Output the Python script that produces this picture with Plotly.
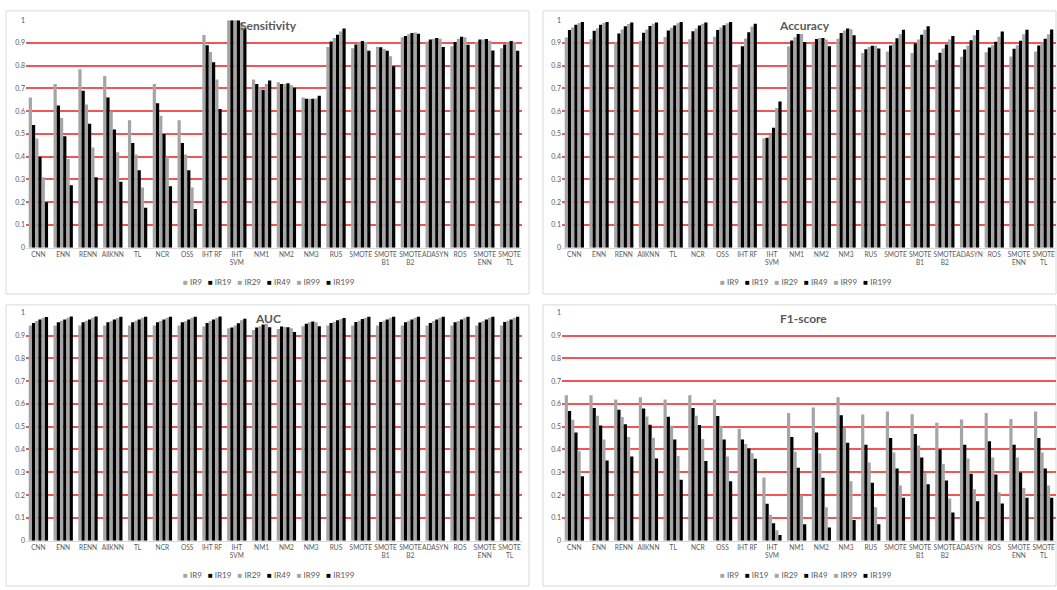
import plotly.graph_objects as go

W, H = 1057, 590

categories = ["CNN", "ENN", "RENN", "AllKNN", "TL", "NCR", "OSS", "IHT RF", "IHT<br>SVM",
              "NM1", "NM2", "NM3", "RUS", "SMOTE", "SMOTE<br>B1", "SMOTE<br>B2", "ADASYN",
              "ROS", "SMOTE<br>ENN", "SMOTE<br>TL"]
series_names = ["IR9", "IR19", "IR29", "IR49", "IR99", "IR199"]
series_colors = ["#a5a5a5", "#000000", "#a5a5a5", "#000000", "#a5a5a5", "#000000"]
y_ticks = [0, 0.1, 0.2, 0.3, 0.4, 0.5, 0.6, 0.7, 0.8, 0.9, 1]
y_ticklabels = ["0", "0.1", "0.2", "0.3", "0.4", "0.5", "0.6", "0.7", "0.8", "0.9", "1"]

# Sensitivity
sens_ir9 = [0.66, 0.72, 0.785, 0.755, 0.56, 0.72, 0.56, 0.935, 1.0, 0.74, 0.727, 0.66, 0.883, 0.877, 0.884, 0.925, 0.907, 0.886, 0.906, 0.877]
sens_ir19 = [0.54, 0.625, 0.69, 0.66, 0.46, 0.635, 0.46, 0.89, 1.0, 0.72, 0.72, 0.655, 0.907, 0.893, 0.881, 0.931, 0.916, 0.905, 0.916, 0.893]
sens_ir29 = [0.48, 0.57, 0.63, 0.60, 0.41, 0.58, 0.41, 0.86, 1.0, 0.705, 0.72, 0.655, 0.922, 0.902, 0.874, 0.939, 0.919, 0.919, 0.915, 0.903]
sens_ir49 = [0.40, 0.49, 0.545, 0.52, 0.34, 0.50, 0.34, 0.815, 1.0, 0.695, 0.723, 0.655, 0.936, 0.909, 0.866, 0.944, 0.922, 0.928, 0.918, 0.909]
sens_ir99 = [0.31, 0.39, 0.44, 0.42, 0.265, 0.40, 0.265, 0.74, 0.99, 0.72, 0.715, 0.656, 0.951, 0.905, 0.842, 0.946, 0.919, 0.925, 0.91, 0.905]
sens_ir199 = [0.20, 0.275, 0.31, 0.29, 0.175, 0.27, 0.17, 0.61, 0.965, 0.735, 0.703, 0.668, 0.964, 0.866, 0.798, 0.941, 0.883, 0.892, 0.867, 0.866]

# Accuracy
acc_ir9 = [0.924, 0.917, 0.902, 0.91, 0.927, 0.917, 0.928, 0.807, 0.481, 0.885, 0.898, 0.919, 0.856, 0.863, 0.856, 0.825, 0.84, 0.859, 0.841, 0.863]
acc_ir19 = [0.957, 0.954, 0.942, 0.945, 0.955, 0.952, 0.957, 0.886, 0.483, 0.911, 0.918, 0.944, 0.873, 0.889, 0.898, 0.857, 0.872, 0.88, 0.875, 0.889]
acc_ir29 = [0.968, 0.965, 0.96, 0.96, 0.967, 0.964, 0.968, 0.92, 0.497, 0.925, 0.922, 0.955, 0.882, 0.903, 0.916, 0.876, 0.889, 0.89, 0.89, 0.903]
acc_ir49 = [0.98, 0.98, 0.974, 0.975, 0.977, 0.977, 0.978, 0.947, 0.527, 0.94, 0.922, 0.964, 0.888, 0.921, 0.936, 0.893, 0.912, 0.906, 0.91, 0.919]
acc_ir99 = [0.988, 0.988, 0.984, 0.985, 0.987, 0.985, 0.987, 0.973, 0.614, 0.94, 0.916, 0.961, 0.888, 0.939, 0.958, 0.915, 0.934, 0.928, 0.939, 0.939]
acc_ir199 = [0.993, 0.993, 0.99, 0.99, 0.993, 0.99, 0.993, 0.985, 0.643, 0.905, 0.886, 0.934, 0.876, 0.958, 0.974, 0.931, 0.957, 0.951, 0.958, 0.96]

# AUC
auc_ir9 = [0.944, 0.944, 0.944, 0.944, 0.944, 0.944, 0.944, 0.94, 0.932, 0.924, 0.929, 0.941, 0.944, 0.944, 0.944, 0.944, 0.944, 0.944, 0.944, 0.944]
auc_ir19 = [0.955, 0.958, 0.958, 0.958, 0.958, 0.958, 0.958, 0.955, 0.935, 0.935, 0.94, 0.952, 0.955, 0.96, 0.96, 0.958, 0.955, 0.958, 0.957, 0.96]
auc_ir29 = [0.964, 0.965, 0.965, 0.963, 0.965, 0.964, 0.963, 0.964, 0.944, 0.941, 0.938, 0.958, 0.961, 0.965, 0.965, 0.965, 0.964, 0.964, 0.964, 0.965]
auc_ir49 = [0.971, 0.971, 0.971, 0.971, 0.971, 0.971, 0.971, 0.971, 0.954, 0.948, 0.937, 0.962, 0.967, 0.973, 0.971, 0.971, 0.971, 0.971, 0.971, 0.971]
auc_ir99 = [0.978, 0.978, 0.978, 0.977, 0.978, 0.978, 0.978, 0.978, 0.967, 0.952, 0.932, 0.958, 0.973, 0.978, 0.978, 0.978, 0.978, 0.978, 0.978, 0.978]
auc_ir199 = [0.981, 0.984, 0.984, 0.983, 0.982, 0.983, 0.982, 0.984, 0.974, 0.937, 0.916, 0.941, 0.977, 0.983, 0.983, 0.983, 0.983, 0.983, 0.983, 0.983]

# F1-score
f1_ir9 = [0.638, 0.638, 0.619, 0.629, 0.619, 0.638, 0.619, 0.491, 0.277, 0.56, 0.584, 0.629, 0.554, 0.567, 0.555, 0.517, 0.532, 0.56, 0.534, 0.567]
f1_ir19 = [0.569, 0.582, 0.574, 0.58, 0.544, 0.582, 0.547, 0.444, 0.162, 0.455, 0.475, 0.55, 0.421, 0.45, 0.468, 0.40, 0.421, 0.436, 0.421, 0.45]
f1_ir29 = [0.531, 0.548, 0.543, 0.545, 0.504, 0.548, 0.504, 0.424, 0.114, 0.39, 0.382, 0.495, 0.343, 0.387, 0.418, 0.336, 0.361, 0.365, 0.365, 0.387]
f1_ir49 = [0.475, 0.505, 0.511, 0.509, 0.444, 0.508, 0.444, 0.404, 0.076, 0.32, 0.276, 0.43, 0.254, 0.317, 0.365, 0.264, 0.294, 0.29, 0.299, 0.317]
f1_ir99 = [0.392, 0.444, 0.455, 0.452, 0.371, 0.446, 0.369, 0.384, 0.046, 0.199, 0.147, 0.261, 0.147, 0.242, 0.297, 0.185, 0.225, 0.212, 0.231, 0.242]
f1_ir199 = [0.283, 0.352, 0.369, 0.361, 0.267, 0.349, 0.261, 0.359, 0.025, 0.072, 0.058, 0.091, 0.072, 0.188, 0.248, 0.123, 0.173, 0.163, 0.188, 0.188]

panels = [
    ("Sensitivity", [sens_ir9, sens_ir19, sens_ir29, sens_ir49, sens_ir99, sens_ir199]),
    ("Accuracy", [acc_ir9, acc_ir19, acc_ir29, acc_ir49, acc_ir99, acc_ir199]),
    ("AUC", [auc_ir9, auc_ir19, auc_ir29, auc_ir49, auc_ir99, auc_ir199]),
    ("F1-score", [f1_ir9, f1_ir19, f1_ir29, f1_ir49, f1_ir99, f1_ir199]),
]


def px(x):
    return x / W


def py(y):
    return 1 - y / H


geo = [
    dict(frame=(6, 529, 6, 293), plotx=(26, 522), ploty=(15.5, 246), title=(268, 21), legend=(269, 281)),
    dict(frame=(543, 1056, 6, 293), plotx=(562, 1056), ploty=(15.5, 246), title=(804, 21), legend=(806, 281)),
    dict(frame=(6, 529, 304, 589), plotx=(26, 522), ploty=(312, 543), title=(268, 318), legend=(269, 578)),
    dict(frame=(543, 1056, 304, 589), plotx=(562, 1056), ploty=(312, 543), title=(803, 318), legend=(806, 578)),
]

FONT = "Lato"
TXT = "#595959"
GRID = "rgb(242,85,85)"

fig = go.Figure()
layout = dict(
    width=W, height=H, margin=dict(l=0, r=0, t=0, b=0),
    paper_bgcolor="white", plot_bgcolor="white",
    barmode="group", bargap=0.22, bargroupgap=0,
    showlegend=False, font=dict(family=FONT, color=TXT),
    shapes=[], annotations=[],
)

for i, ((title, vals), g) in enumerate(zip(panels, geo)):
    sfx = "" if i == 0 else str(i + 1)
    xa, ya = "x" + sfx, "y" + sfx
    for name, color, v in zip(series_names, series_colors, vals):
        fig.add_trace(go.Bar(x=categories, y=v, name=name, marker=dict(color=color, line=dict(width=0)),
                             xaxis=xa, yaxis=ya, offsetgroup=name))
    layout["xaxis" + sfx] = dict(
        domain=[px(g["plotx"][0]), px(g["plotx"][1])], anchor=ya,
        showgrid=False, showline=True, linecolor="#d9d9d9", linewidth=1,
        ticks="", tickfont=dict(size=6.6, color=TXT, family=FONT), tickangle=0,
        fixedrange=True,
    )
    layout["yaxis" + sfx] = dict(
        domain=[py(g["ploty"][1]), py(g["ploty"][0])], anchor=xa,
        range=[0, 1], tickvals=y_ticks, ticktext=y_ticklabels,
        showgrid=True, gridcolor=GRID, gridwidth=1.5, zeroline=False,
        showline=False, ticks="", tickfont=dict(size=7, color=TXT, family=FONT),
        fixedrange=True,
    )
    x0, x1, y0, y1 = g["frame"]
    layout["shapes"].append(dict(type="rect", xref="paper", yref="paper",
                                 x0=px(x0), x1=px(x1), y0=py(y1), y1=py(y0),
                                 line=dict(color="#d9d9d9", width=1), fillcolor="rgba(0,0,0,0)",
                                 layer="below"))
    tx, ty = g["title"]
    layout["annotations"].append(dict(text="<b>" + title + "</b>", x=px(tx), y=py(ty), xref="paper", yref="paper",
                                      showarrow=False, xanchor="center", yanchor="middle",
                                      font=dict(size=12, color=TXT, family=FONT)))
    lx, ly = g["legend"]
    parts = []
    for name, color in zip(series_names, series_colors):
        parts.append("<span style='color:%s'>■</span> %s" % (color, name))
    legend_text = "   ".join(parts)
    layout["annotations"].append(dict(text=legend_text, x=px(lx), y=py(ly), xref="paper", yref="paper",
                                      showarrow=False, xanchor="center", yanchor="middle",
                                      font=dict(size=8, color=TXT, family=FONT)))

fig.update_layout(**layout)
fig.write_html("out.html")
